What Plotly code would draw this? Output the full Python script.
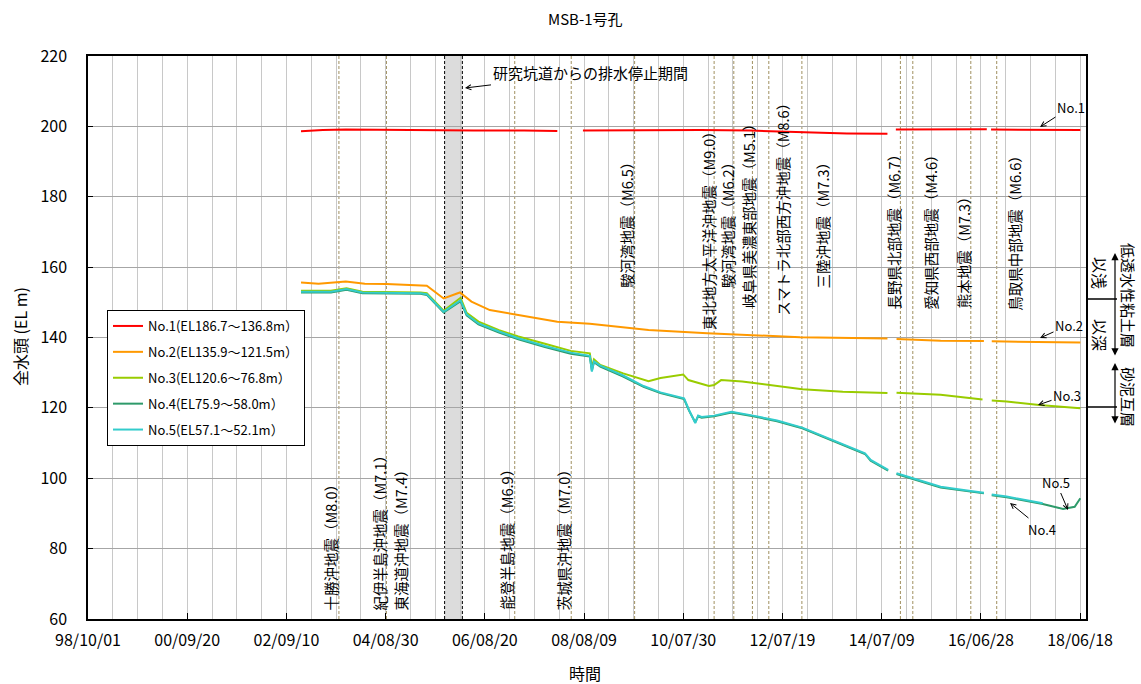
import plotly.graph_objects as go

FONT = "Noto Sans CJK JP"

# ---------------- data ----------------
series_names = ["No.1(EL186.7～136.8m）", "No.2(EL135.9～121.5m）", "No.3(EL120.6～76.8m）",
                "No.4(EL75.9～58.0m）", "No.5(EL57.1～52.1m）"]

no1_dates = ["2002-12-25", "2003-06-01", "2003-11-15", "2004-06-01", "2005-05-10", "2006-06-01",
             "2007-06-01", "2008-01-28", "2008-04-15", "2008-08-01", "2009-06-01", "2010-11-30",
             "2011-12-01", "2012-07-01", "2013-03-01", "2013-10-30", "2014-08-20", "2014-09-20",
             "2014-10-20", "2015-08-01", "2016-08-10", "2016-08-25", "2016-09-10", "2017-08-01",
             "2018-06-20"]
no1_vals = [198.6, 199.0, 199.1, 199.0, 198.9, 198.8, 198.8, 198.7, None, 198.8, 198.9, 199.0,
            198.8, 198.5, 198.2, 198.0, 197.9, None, 199.1, 199.2, 199.2, None, 199.1, 199.1,
            199.0]

no2_dates = ["2002-12-25", "2003-05-01", "2003-11-15", "2004-04-01", "2004-09-05", "2005-05-10",
             "2005-06-25", "2005-10-25", "2006-02-20", "2006-05-15", "2006-09-25", "2007-04-20",
             "2008-01-28", "2008-09-20", "2009-05-20", "2009-11-20", "2011-01-20", "2012-11-25",
             "2014-08-20", "2014-09-20", "2014-10-25", "2015-09-10", "2016-07-20", "2016-08-15",
             "2016-09-15", "2017-08-25", "2018-06-20"]
no2_vals = [155.6, 155.3, 155.9, 155.3, 155.2, 154.9, 154.7, 151.1, 152.8, 150.2, 147.8, 146.4,
            144.5, 143.9, 142.8, 142.1, 141.2, 140.1, 139.7, None, 139.6, 139.1, 139.0, None,
            138.9, 138.8, 138.6]

no3_dates = ["2002-12-25", "2003-07-30", "2003-11-20", "2004-03-15", "2005-05-10", "2005-06-25",
             "2005-10-25", "2006-02-25", "2006-04-10", "2006-07-05", "2006-12-01", "2007-04-20",
             "2007-10-30", "2008-05-05", "2008-09-20", "2008-10-05", "2008-10-20", "2008-12-05",
             "2009-05-20", "2009-10-15", "2009-11-20", "2010-02-15", "2010-07-30", "2010-09-05",
             "2011-02-01", "2011-03-11", "2011-05-01", "2011-10-01", "2012-06-10", "2012-12-10",
             "2013-09-30", "2014-08-20", "2014-09-20", "2014-10-25", "2015-09-10", "2016-07-10",
             "2016-08-15", "2016-09-15", "2017-01-01", "2017-08-25", "2018-06-20"]
no3_vals = [153.3, 153.3, 154.0, 153.0, 152.8, 152.6, 147.6, 151.3, 147.0, 144.5, 142.1, 140.3,
            138.2, 136.2, 135.5, 131.5, 133.8, 132.2, 129.8, 128.0, 127.6, 128.5, 129.5, 127.9,
            126.2, 126.5, 127.9, 127.5, 126.3, 125.3, 124.6, 124.2, None, 124.3, 123.7, 122.4,
            None, 122.1, 121.8, 120.8, 119.9]

no4_dates = ["2002-12-25", "2003-07-30", "2003-11-20", "2004-03-15", "2005-05-10", "2005-06-25",
             "2005-10-25", "2006-02-25", "2006-04-10", "2006-07-05", "2006-12-01", "2007-04-20",
             "2007-10-30", "2008-05-05", "2008-09-20", "2008-10-05", "2008-10-20", "2008-12-05",
             "2009-05-20", "2009-10-15", "2010-02-15", "2010-08-05", "2010-09-10", "2010-10-25",
             "2010-11-15", "2010-12-10", "2011-03-11", "2011-07-15", "2011-12-20", "2012-06-10",
             "2012-12-10", "2013-07-10", "2014-03-10", "2014-04-20", "2014-08-25", "2014-09-20",
             "2014-10-25", "2015-09-10", "2016-04-15", "2016-07-20", "2016-08-15", "2016-09-15",
             "2017-01-01", "2017-09-20", "2018-02-15", "2018-05-10", "2018-06-20"]
no4_vals = [152.8, 152.8, 153.6, 152.6, 152.4, 152.1, 147.1, 150.3, 146.3, 143.7, 141.4, 139.5,
            137.3, 135.4, 134.6, 130.6, 133.0, 131.7, 128.9, 126.0, 124.2, 122.5, 119.2, 115.9,
            117.6, 117.2, 117.6, 118.7, 117.6, 116.2, 114.2, 110.7, 106.9, 105.0, 102.2, None,
            101.2, 97.4, 96.2, 95.7, None, 95.2, 94.6, 92.7, 91.3, 91.9, 94.3]

no5_dates = ["2002-12-25", "2003-07-30", "2003-11-20", "2004-03-15", "2005-05-10", "2005-06-25",
             "2005-10-25", "2006-02-25", "2006-04-10", "2006-07-05", "2006-12-01", "2007-04-20",
             "2007-10-30", "2008-05-05", "2008-09-20", "2008-10-05", "2008-10-20", "2008-12-05",
             "2009-05-20", "2009-10-15", "2010-02-15", "2010-08-05", "2010-09-10", "2010-10-25",
             "2010-11-15", "2010-12-10", "2011-03-11", "2011-07-15", "2011-12-20", "2012-06-10",
             "2012-12-10", "2013-07-10", "2014-03-10", "2014-04-20", "2014-08-25", "2014-09-20",
             "2014-10-25", "2015-09-10", "2016-04-15", "2016-07-20", "2016-08-15", "2016-09-15",
             "2017-01-01", "2017-09-20"]
no5_vals = [153.0, 153.0, 153.8, 152.8, 152.6, 152.3, 147.3, 150.6, 146.6, 144.0, 141.7, 139.8,
            137.6, 135.7, 134.8, 130.3, 133.2, 132.0, 129.2, 126.2, 124.4, 122.7, 119.4, 115.7,
            117.8, 117.4, 117.8, 118.9, 117.8, 116.4, 114.4, 110.9, 107.1, 105.2, 102.4, None,
            101.4, 97.6, 96.4, 95.9, None, 95.4, 94.8, 92.9]

quake_labels = ["十勝沖地震（M8.0）", "紀伊半島沖地震（M7.1）", "東海道沖地震（M7.4）",
                "能登半島地震（M6.9）", "茨城県沖地震（M7.0）", "駿河湾地震（M6.5）",
                "東北地方太平洋沖地震（M9.0）", "駿河湾地震（M6.2）", "岐阜県美濃東部地震（M5.1）",
                "スマトラ北部西方沖地震（M8.6）", "三陸沖地震（M7.3）", "長野県北部地震（M6.7）",
                "愛知県西部地震（M4.6）", "熊本地震（M7.3）", "鳥取県中部地震（M6.6）"]
quake_dates = ["2003-09-26", "2004-09-05", "2004-09-05", "2007-03-25", "2008-05-08", "2009-08-11",
               "2011-03-11", "2011-08-01", "2011-12-14", "2012-04-11", "2012-12-07", "2014-11-22",
               "2015-02-20", "2016-04-16", "2016-10-21"]

drain_period = ["2005-11-01", "2006-03-10"]

# ---------------- layout helpers ----------------
W, H = 1141, 684
L, R, T, B = 88, 1086, 56, 619


def px(xp):
    return (xp - L) / (R - L)


def py(yp):
    return (B - yp) / (B - T)


# label placement (screen px): bottom edge of rotated text and horizontal shift from the line
quake_label_bottom = [612, 612, 612, 612, 612, 290, 332, 290, 310, 318, 290, 311, 312, 310, 313]
quake_label_dx = [-8, -7, 14, -9, -8, -8, -6, -6, -4, 13, 21, -7, 17, -7, 17]

colors = ["#FF0000", "#FF9900", "#99CC00", "#2E9A6A", "#33CCCC"]
all_dates = [no1_dates, no2_dates, no3_dates, no4_dates, no5_dates]
all_vals = [no1_vals, no2_vals, no3_vals, no4_vals, no5_vals]

fig = go.Figure()
for i in range(5):
    fig.add_trace(go.Scatter(
        x=all_dates[i], y=all_vals[i], mode="lines", name=series_names[i],
        line=dict(color=colors[i], width=2), connectgaps=False,
        legendgroup="g%d" % i,
    ))

shapes = []
shapes.append(dict(type="rect", xref="x", yref="paper", x0=drain_period[0], x1=drain_period[1],
                   y0=0, y1=1, fillcolor="#DCDCDC", line=dict(width=0), layer="between"))
for d in drain_period:
    shapes.append(dict(type="line", xref="x", yref="paper", x0=d, x1=d, y0=0, y1=1,
                       line=dict(color="black", width=1, dash="3px,2px"), layer="between"))
for d in sorted(set(quake_dates)):
    shapes.append(dict(type="line", xref="x", yref="paper", x0=d, x1=d, y0=0, y1=1,
                       line=dict(color="#A09060", width=1, dash="3px,2px"), layer="between"))
for yy in [299, 407]:
    shapes.append(dict(type="line", xref="paper", yref="paper", x0=px(1086), x1=px(1117),
                       y0=py(yy), y1=py(yy), line=dict(color="black", width=1.5)))

ann = []
for lab, d, yb, dx in zip(quake_labels, quake_dates, quake_label_bottom, quake_label_dx):
    ann.append(dict(text=lab, x=d, xref="x", y=py(yb), yref="paper", textangle=-90,
                    xanchor="center", yanchor="bottom", xshift=dx, showarrow=False,
                    font=dict(family=FONT, size=14.5, color="black")))


def arrow_label(text, hx, hy, tx, ty, size=14):
    return dict(text=text, x=px(hx), y=py(hy), xref="paper", yref="paper",
                ax=tx - hx, ay=ty - hy, axref="pixel", ayref="pixel", showarrow=True,
                arrowhead=5, arrowsize=1, arrowwidth=1, arrowcolor="black",
                xanchor="center", yanchor="middle",
                font=dict(family=FONT, size=size, color="black"))


ann.append(arrow_label("研究坑道からの排水停止期間", 465, 88, 590, 73, 15))
ann.append(arrow_label("No.1", 1040, 127, 1071, 107, 13))
ann.append(arrow_label("No.2", 1040, 338, 1069, 325, 13))
ann.append(arrow_label("No.3", 1038, 405, 1067, 395, 13))
ann.append(arrow_label("No.5", 1068, 510, 1056, 482, 13))
ann.append(arrow_label("No.4", 1010, 503, 1042, 529, 13))

for y_top, length in [(253, 104), (363, 62)]:
    ann.append(dict(text="", x=px(1115), y=py(y_top), xref="paper", yref="paper",
                    ax=0, ay=length, axref="pixel", ayref="pixel", showarrow=True,
                    arrowhead=2, arrowsize=1.2, arrowwidth=1.2, arrowside="end+start",
                    startarrowhead=2, startarrowsize=1.2, arrowcolor="black"))

for text, xx, yy, fs in [("低透水性粘土層", 1129, 295, 15), ("砂泥互層", 1129, 397, 15),
                         ("以浅", 1100, 273, 16), ("以深", 1100, 335, 16)]:
    ann.append(dict(text=text, x=px(xx), y=py(yy), xref="paper", yref="paper", textangle=90,
                    showarrow=False, xanchor="center", yanchor="middle",
                    font=dict(family=FONT, size=fs, color="black")))

ann.append(dict(text="MSB-1号孔", x=px(585), y=py(18), xref="paper", yref="paper",
                xanchor="center", yanchor="middle", showarrow=False,
                font=dict(family=FONT, size=15, color="black")))
ann.append(dict(text="時間", x=px(585), y=py(673), xref="paper", yref="paper",
                xanchor="center", yanchor="middle", showarrow=False,
                font=dict(family=FONT, size=16, color="black")))
ann.append(dict(text="全水頭 (EL m)", x=px(20), y=py(337), xref="paper", yref="paper",
                xanchor="center", yanchor="middle", textangle=-90, showarrow=False,
                font=dict(family=FONT, size=16, color="black")))

DAY = 86400000
fig.update_layout(
    width=W, height=H, margin=dict(l=L, r=W - R, t=T, b=H - B, autoexpand=False),
    paper_bgcolor="white", plot_bgcolor="white",
    font=dict(family=FONT, size=14, color="black"),
    shapes=shapes, annotations=ann,
    showlegend=True,
    legend=dict(x=px(107), y=py(310), xanchor="left", yanchor="top",
                bordercolor="black", borderwidth=1, bgcolor="white",
                font=dict(family=FONT, size=13, color="black"),
                traceorder="grouped", tracegroupgap=6),
    xaxis=dict(type="date", range=["1998-10-01", "2018-07-31"], tick0="1998-10-01",
               dtick=720 * DAY, tickformat="%y/%m/%d", showgrid=True, gridcolor="#C8C8C8",
               gridwidth=1, minor=dict(dtick=180 * DAY, tick0="1998-10-01", showgrid=True,
                                       gridcolor="#C8C8C8", gridwidth=1),
               ticks="inside", ticklen=6, tickcolor="black", showline=True, linecolor="black",
               linewidth=1.5, mirror=True, zeroline=False, ticklabelstandoff=6,
               tickfont=dict(family=FONT, size=16, color="black")),
    yaxis=dict(range=[60, 220], dtick=20, tick0=60, showgrid=True, gridcolor="#A6A6A6",
               gridwidth=1, ticks="inside", ticklen=5, tickcolor="black", showline=True,
               linecolor="black", linewidth=1.5, mirror=True, zeroline=False,
               ticklabelstandoff=16, tickfont=dict(family=FONT, size=16, color="black")),
)

fig.write_html("out.html", config={"displayModeBar": False},
               post_script="document.body.style.margin='0';document.body.style.overflow='hidden';")
